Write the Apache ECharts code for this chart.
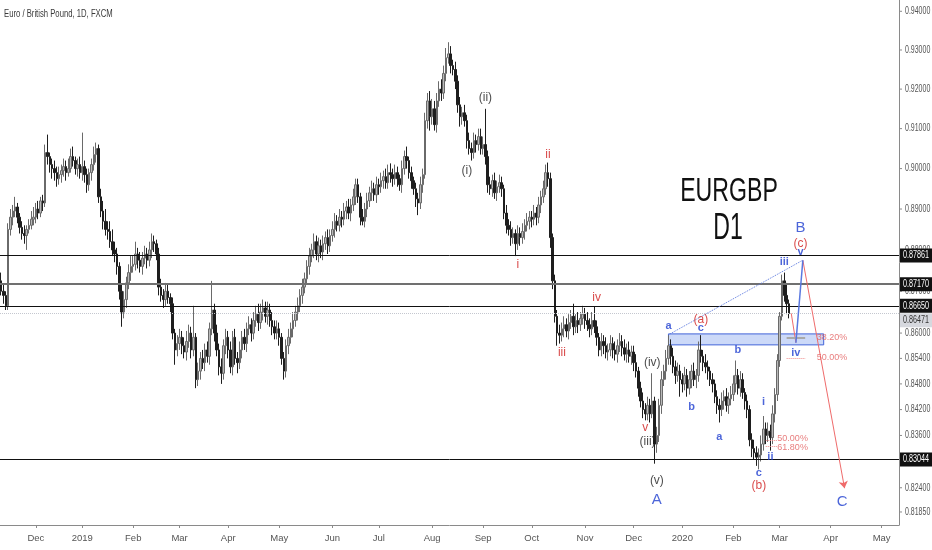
<!DOCTYPE html>
<html>
<head>
<meta charset="utf-8">
<script src="https://cdn.jsdelivr.net/npm/echarts@6/dist/echarts.min.js"></script>
<style>
html,body{margin:0;padding:0;background:#fff;}
#chart{width:932px;height:550px;}
</style>
</head>
<body>
<div id="chart"></div>
<script>
// ---------------- DATA ----------------
// daily candles Nov 12 2018 .. Mar 6 2020, prices in pips (x 1e-4)
const firstOpenPips = 8725;
const closePips = [
  /* Nov18 */ 8700,8690,8665,8850,8880,8895,8905,8880,8855,8840,8835,8850,8860,8875,8880,
  /* Dec18 */ 8900,8890,8920,8915,9040,9030,9010,9000,8990,8975,8985,8995,9005,8990,9000,9030,9020,9000,9010,8990,
  /* Jan19 */ 9005,8985,8960,8990,9010,9035,9050,8930,8895,8870,8850,8845,8820,8800,8790,8760,8700,8650,8680,8720,8745,8760,
  /* Feb19 */ 8765,8790,8775,8760,8780,8790,8775,8800,8820,8815,8790,8710,8690,8680,8700,8685,8670,8600,8560,8575,
  /* Mar19 */ 8590,8570,8555,8580,8600,8560,8590,8490,8510,8540,8530,8560,8545,8610,8655,8600,8560,8520,8505,8570,8590,
  /* Apr19 */ 8560,8520,8590,8540,8530,8560,8590,8575,8610,8620,8600,8630,8645,8625,8650,8660,8640,8655,8630,8615,8600,8610,
  /* May19 */ 8590,8540,8510,8570,8590,8610,8630,8650,8665,8690,8710,8730,8760,8785,8800,8820,8790,8810,8795,8815,8830,8810,8835,
  /* Jun19 */ 8850,8870,8860,8880,8875,8895,8905,8890,8910,8930,8960,8930,8880,8870,8900,8920,8940,8950,8935,8960,
  /* Jul19 */ 8955,8970,8980,8965,8990,8985,8975,8990,8975,8960,9000,9030,9020,8990,8970,8950,8925,8915,8960,8985,9120,9170,9130,
  /* Aug19 */ 9150,9110,9170,9200,9190,9240,9280,9290,9260,9250,9220,9160,9130,9140,9120,9070,9050,9040,9070,9060,9080,9050,
  /* Sep19 */ 9060,9030,8960,8950,8970,8940,8955,8965,8950,8890,8860,8850,8830,8840,8815,8840,8830,8845,8860,8870,8880,
  /* Oct19 */ 8875,8890,8880,8910,8930,8950,8990,8975,8830,8725,8640,8600,8595,8610,8620,8605,8625,8640,8615,8630,8620,8635,8645,
  /* Nov19 */ 8630,8620,8610,8630,8615,8590,8560,8580,8570,8555,8560,8575,8560,8550,8570,8580,8565,8550,8560,8545,8555,
  /* Dec19 */ 8530,8510,8470,8440,8420,8410,8430,8410,8440,8340,8360,8430,8490,8510,8540,8570,8545,8520,8500,8510,8490,
  /* Jan20 */ 8480,8500,8470,8490,8510,8490,8500,8560,8545,8530,8520,8510,8490,8480,8450,8430,8420,8440,8450,8430,8445,8455,
  /* Feb20 */ 8480,8500,8470,8490,8460,8440,8420,8350,8330,8320,8310,8315,8340,8375,8360,8370,8355,8410,8455,8535,
  /* Mar20 */ 8640,8725,8690,8670,8647
];
// wick lengths above the body top / below the body bottom, in pips
const upperWickPips = [
  /* Nov18 */ 20,15,10,15,20,15,25,10,10,15,20,10,15,20,25,
  /* Dec18 */ 15,20,10,15,20,45,10,15,20,15,20,15,20,15,25,20,25,10,15,20,
  /* Jan19 */ 85,15,15,10,15,20,15,10,20,25,30,20,25,30,20,15,10,15,20,15,20,25,
  /* Feb19 */ 20,30,15,20,15,20,15,20,20,15,10,15,20,15,20,15,10,15,10,20,
  /* Mar19 */ 20,15,20,25,20,15,75,10,20,15,20,15,20,15,70,15,20,15,20,15,20,
  /* Apr19 */ 15,20,15,20,15,20,15,20,15,20,15,20,20,25,20,20,15,20,15,20,15,20,
  /* May19 */ 15,10,15,15,20,15,20,15,20,15,20,15,15,20,15,20,15,20,15,20,15,20,15,
  /* Jun19 */ 20,20,15,20,15,20,15,20,15,20,15,15,10,20,15,20,15,20,15,20,
  /* Jul19 */ 15,20,15,20,20,23,15,20,15,10,20,15,25,10,15,10,15,15,20,15,20,20,25,
  /* Aug19 */ 25,20,20,20,25,20,25,30,20,15,20,15,20,15,20,15,20,15,20,15,20,20,
  /* Sep19 */ 20,90,15,20,15,20,15,20,15,10,20,15,20,15,10,20,15,20,15,20,15,
  /* Oct19 */ 15,20,15,20,15,20,20,25,15,10,15,15,20,15,20,15,20,15,30,15,20,15,20,
  /* Nov19 */ 15,20,15,20,33,15,10,20,15,20,15,20,15,20,15,20,15,20,15,20,15,
  /* Dec19 */ 15,20,10,15,20,15,20,15,65,10,20,15,20,15,20,25,15,20,15,20,15,
  /* Jan20 */ 15,20,15,20,15,20,15,20,35,15,20,15,10,15,10,15,15,20,15,20,15,20,
  /* Feb20 */ 20,35,15,20,15,10,15,10,15,20,15,15,20,30,15,20,15,20,15,15,
  /* Mar20 */ 10,15,20,30,10
];
const lowerWickPips = [
  /* Nov18 */ 10,20,10,10,15,20,15,15,15,15,20,35,10,10,15,
  /* Dec18 */ 15,15,10,20,10,20,20,25,20,20,15,20,15,20,10,10,15,15,20,15,
  /* Jan19 */ 20,20,20,15,20,15,20,15,15,20,15,20,15,15,20,20,20,35,15,20,15,20,
  /* Feb19 */ 15,15,20,15,20,15,20,15,20,20,15,20,15,20,15,15,20,15,35,15,
  /* Mar19 */ 15,20,15,20,15,20,15,20,15,20,15,20,15,20,15,20,15,20,25,15,20,
  /* Apr19 */ 20,15,20,15,25,15,20,15,20,15,20,15,15,20,15,20,15,20,15,20,15,15,
  /* May19 */ 20,15,20,15,20,15,20,15,20,15,20,15,15,20,15,20,15,20,15,20,15,20,15,
  /* Jun19 */ 15,20,15,15,20,15,20,15,20,15,20,15,20,10,15,20,15,20,15,20,
  /* Jul19 */ 20,15,20,15,15,20,20,15,20,15,20,15,20,15,20,15,20,30,15,20,10,20,35,
  /* Aug19 */ 20,15,20,15,20,15,20,15,20,15,20,20,25,20,15,20,15,20,15,20,15,15,
  /* Sep19 */ 15,20,20,15,20,15,20,15,20,15,20,15,20,15,30,15,20,15,20,15,20,
  /* Oct19 */ 20,15,20,15,20,15,15,20,25,20,15,30,20,15,20,15,20,15,20,15,20,15,15,
  /* Nov19 */ 20,15,20,15,15,20,15,15,20,15,20,15,20,15,20,15,20,15,20,15,20,
  /* Dec19 */ 20,15,20,15,20,15,15,20,10,45,20,15,20,15,20,15,20,15,20,15,40,
  /* Jan20 */ 20,15,20,15,20,15,20,15,15,20,15,20,15,20,15,20,30,15,20,15,20,15,
  /* Feb20 */ 15,20,15,20,15,20,20,15,20,15,20,28,15,15,20,15,30,15,20,15,
  /* Mar20 */ 15,10,15,25,12
];

// axis domain: trading days (weekdays without these closures)
const axisStartDate = '2018-11-12';
const axisEndDate = '2020-05-12';
const marketHolidays = ['2018-12-25', '2019-01-01', '2019-12-25', '2020-01-01'];
const monthTickLabels = [
  ['2018-12-03', 'Dec'], ['2019-01-02', '2019'], ['2019-02-01', 'Feb'], ['2019-03-01', 'Mar'],
  ['2019-04-01', 'Apr'], ['2019-05-01', 'May'], ['2019-06-03', 'Jun'], ['2019-07-01', 'Jul'],
  ['2019-08-01', 'Aug'], ['2019-09-02', 'Sep'], ['2019-10-01', 'Oct'], ['2019-11-01', 'Nov'],
  ['2019-12-02', 'Dec'], ['2020-01-02', '2020'], ['2020-02-03', 'Feb'], ['2020-03-02', 'Mar'],
  ['2020-04-01', 'Apr'], ['2020-05-01', 'May']
];
const priceTickValues = [0.94, 0.93, 0.92, 0.91, 0.90, 0.89, 0.88, 0.87, 0.86, 0.854, 0.848, 0.842, 0.836, 0.824, 0.8185];
const priceMin = 0.81556;
const priceMax = 0.94294;

// horizontal levels
const levelPrices = [0.87861, 0.87170, 0.86650, 0.83044];
const lastPrice = 0.86471;

// wave labels: [text, bar index, price]
const blackWaveLabels = [['(i)', 201, 0.8996], ['(ii)', 209, 0.9177], ['(iii)', 279, 0.8345], ['(iv)', 281, 0.8531], ['(v)', 283, 0.8255]];
const redWaveLabels = [['ii', 236, 0.9034], ['i', 223, 0.8763], ['iii', 242, 0.8553], ['iv', 257, 0.8684], ['v', 278, 0.8377],
  ['(a)', 302, 0.8631], ['(b)', 327, 0.8244], ['(c)', 345, 0.8814]];
const blueWaveLabels = [['a', 288, 0.8617], ['b', 298, 0.8426], ['c', 302, 0.8612], ['a', 310, 0.8356], ['b', 318, 0.8560],
  ['c', 327, 0.8274], ['i', 329, 0.8438], ['ii', 332, 0.8310], ['iii', 338, 0.8771], ['iv', 343, 0.8553], ['v', 345, 0.8795]];
const blueDegreeLabels = [['A', 283, 0.8212], ['B', 345, 0.8853], ['C', 363, 0.8207]];
const fibTexts = [['38.20%', 352, 0.8590], ['50.00%', 352, 0.8541], ['50.00%', 335, 0.8354], ['61.80%', 335, 0.8333]];

// drawn lines: [[x1, p1], [x2, p2]]
const blueDottedTrend = [[288, 0.8596], [346, 0.8775]];
const blueProjection = [[343, 0.8577], [346, 0.8775]];
const redProjection = [[341, 0.8647], [343, 0.8577]];
const redArrow = [[346, 0.8775], [364, 0.8239]];
const fibGreyLines = [[[339, 0.8590], [347, 0.8590]]];
const fibRedLines = [[[339, 0.8541], [347, 0.8541]], [[330, 0.8349], [335, 0.8349]], [[330, 0.8334], [335, 0.8334]]];
const blueZone = [[288, 0.8598], [355, 0.8572]];

// ---------------- BUILD ----------------
const FONT = "'Liberation Sans',Arial,sans-serif";
const dates = [];
(function () {
  const d = new Date(axisStartDate + 'T00:00:00Z');
  const end = new Date(axisEndDate + 'T00:00:00Z').getTime();
  while (d.getTime() <= end) {
    const wd = d.getUTCDay();
    const s = d.toISOString().slice(0, 10);
    if (wd !== 0 && wd !== 6 && marketHolidays.indexOf(s) < 0) dates.push(s);
    d.setUTCDate(d.getUTCDate() + 1);
  }
})();
const monthMap = {};
monthTickLabels.forEach(([d, t]) => { monthMap[d] = t; });

const candles = [];
let prevClose = firstOpenPips;
closePips.forEach((c, i) => {
  const o = prevClose;
  const hi = Math.max(o, c) + upperWickPips[i];
  const lo = Math.min(o, c) - lowerWickPips[i];
  candles.push([o / 1e4, c / 1e4, lo / 1e4, hi / 1e4]);
  prevClose = c;
});

function labelSeries(items, color, fontSize, weight) {
  return {
    type: 'scatter', symbolSize: 0, silent: true, z: 6,
    itemStyle: { color: 'transparent' },
    data: items.map(([t, x, y]) => ({ value: [x, y], name: t })),
    label: { show: true, position: 'inside', formatter: p => p.name, color: color,
      fontSize: fontSize, fontFamily: FONT, fontWeight: weight || 'normal' }
  };
}
function seg(pair, style, endSymbol) {
  return [
    { coord: pair[0], symbol: 'none', lineStyle: style },
    { coord: pair[1], symbol: endSymbol || 'none', lineStyle: style }
  ];
}

const levelLines = levelPrices.map((p, i) => ({
  yAxis: p,
  lineStyle: i === 1 ? { color: '#707070', width: 2, type: 'solid' } : { color: '#111', width: 1, type: 'solid' }
}));
levelLines.push({ yAxis: lastPrice, lineStyle: { color: '#c4c7cf', width: 1, type: 'dotted' } });

const redSeries = labelSeries(redWaveLabels, '#d01c1c', 12);
redSeries.markLine = {
  silent: true, animation: false, symbolSize: 7, precision: 5, label: { show: false },
  data: [
    seg(redProjection, { color: '#ef6b6b', width: 1, type: 'solid' }),
    seg(redArrow, { color: '#ef6b6b', width: 1, type: 'solid' }, 'arrow')
  ].concat(fibRedLines.map(l => seg(l, { color: '#ef8a8a', width: 1, type: 'dotted' })))
   .concat(fibGreyLines.map(l => seg(l, { color: '#a9a9a9', width: 2, type: 'solid' })))
};

const blueSeries = labelSeries(blueWaveLabels, '#1f3fd0', 11, 'bold');
blueSeries.markLine = {
  silent: true, animation: false, precision: 5, label: { show: false },
  data: [
    seg(blueDottedTrend, { color: '#5a78e0', width: 1, type: 'dotted' }),
    seg(blueProjection, { color: '#5a78e0', width: 1.5, type: 'solid' })
  ]
};

const fibSeries = labelSeries(fibTexts, '#e25c5c', 9);
fibSeries.label.align = 'left';

const option = {
  animation: false,
  backgroundColor: '#fff',
  grid: { left: -1, right: 33, top: 0, bottom: 25 },
  xAxis: {
    type: 'category', data: dates, boundaryGap: true,
    axisLine: { show: true, lineStyle: { color: '#8a8a8a', width: 1 } },
    axisTick: { show: true, alignWithLabel: true, length: 3, interval: (i, v) => !!monthMap[v], lineStyle: { color: '#8a8a8a' } },
    axisLabel: { interval: (i, v) => !!monthMap[v], formatter: v => monthMap[v] || '', color: '#555',
      fontSize: 9.5, fontFamily: FONT, margin: 8 },
    splitLine: { show: false }
  },
  yAxis: {
    type: 'log', logBase: 10, position: 'right', min: priceMin, max: priceMax,
    axisLine: { show: true, lineStyle: { color: '#8a8a8a' } },
    axisTick: { show: false }, axisLabel: { show: false }, splitLine: { show: false }
  },
  series: [
    {
      type: 'candlestick', data: candles, barWidth: '85%', z: 3,
      itemStyle: { color: '#b9b9b9', color0: '#1e1e1e', borderColor: '#6a6a6a', borderColor0: '#1e1e1e', borderWidth: 1 },
      markLine: { silent: true, symbol: 'none', animation: false, precision: 5, label: { show: false }, data: levelLines },
      markArea: {
        silent: true,
        itemStyle: { color: 'rgba(110,145,235,0.35)', borderColor: '#3f62d8', borderWidth: 1 },
        data: [[{ coord: blueZone[0] }, { coord: blueZone[1] }]]
      }
    },
    labelSeries(blackWaveLabels, '#1a1a1a', 12),
    redSeries,
    blueSeries,
    labelSeries(blueDegreeLabels, '#1f3fd0', 15),
    fibSeries
  ]
};

const chart = echarts.init(document.getElementById('chart'), null, { renderer: 'canvas' });
chart.setOption(option);

// price-scale labels on the right, placed through the y axis scale
const plotRight = 932 - 33;
const textStyle = (txt, fill) => ({ text: txt, fill: fill, font: "10px 'Liberation Sans', Arial, sans-serif",
  align: 'left', verticalAlign: 'middle', textAlign: 'left', textVerticalAlign: 'middle' });
const graphics = [
  { type: 'text', x: 4, y: 14, scaleX: 0.7, z: 100, style: { text: 'Euro / British Pound, 1D, FXCM', fill: '#3a3a3a',
    font: "11px 'Liberation Sans', sans-serif", align: 'left', verticalAlign: 'middle', textAlign: 'left', textVerticalAlign: 'middle' } },
  { type: 'text', x: 729, y: 192, scaleX: 0.68, z: 100, style: { text: 'EURGBP', fill: '#111',
    font: "34px 'Liberation Sans', sans-serif", align: 'center', verticalAlign: 'middle', textAlign: 'center', textVerticalAlign: 'middle' } },
  { type: 'text', x: 728, y: 229, scaleX: 0.64, z: 100, style: { text: 'D1', fill: '#111',
    font: "36px 'Liberation Sans', sans-serif", align: 'center', verticalAlign: 'middle', textAlign: 'center', textVerticalAlign: 'middle' } }
];
priceTickValues.forEach(v => {
  const y = chart.convertToPixel({ yAxisIndex: 0 }, v);
  graphics.push({ type: 'line', z: 50, shape: { x1: plotRight, y1: y, x2: plotRight + 3, y2: y }, style: { stroke: '#8a8a8a', lineWidth: 1 } });
  graphics.push({ type: 'text', x: plotRight + 6, y: y, scaleX: 0.7, z: 50, style: textStyle(v.toFixed(5), '#555') });
});
levelPrices.forEach(p => {
  const y = chart.convertToPixel({ yAxisIndex: 0 }, p);
  graphics.push({ type: 'rect', z: 110, shape: { x: plotRight + 1, y: y - 7, width: 33, height: 14 }, style: { fill: '#111' } });
  graphics.push({ type: 'text', x: plotRight + 4, y: y, scaleX: 0.72, z: 111, style: textStyle(p.toFixed(5), '#fff') });
});
(function () {
  const y = chart.convertToPixel({ yAxisIndex: 0 }, lastPrice) + 7; // pushed below the neighbouring level tag
  graphics.push({ type: 'rect', z: 105, shape: { x: plotRight + 1, y: y - 7, width: 33, height: 14 }, style: { fill: '#d6d8de' } });
  graphics.push({ type: 'text', x: plotRight + 4, y: y, scaleX: 0.72, z: 106, style: textStyle(lastPrice.toFixed(5), '#333') });
})();
chart.setOption({ graphic: graphics });
</script>
</body>
</html>
